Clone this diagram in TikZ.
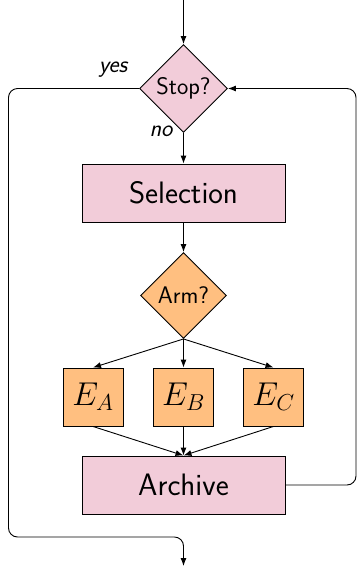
\documentclass[tikz,border=0pt]{standalone}
\usepackage{fix-cm}
\usepackage{fontspec}
\usetikzlibrary{shapes.geometric,arrows.meta}
\begin{document}
\begin{tikzpicture}[x=1pt,y=-1pt,
  line width=0.9pt,
  arr/.style={-{Latex[length=8pt,width=6pt]}},
  decision/.style={diamond,draw,aspect=1,inner sep=0pt,minimum width=88pt,minimum height=88pt,font=\sffamily\fontsize{24}{28}\selectfont},
  bigbox/.style={rectangle,draw,minimum width=203pt,minimum height=58pt,fill=purple!20,font=\sffamily\fontsize{31}{35}\selectfont},
  ebox/.style={rectangle,draw,minimum width=60pt,minimum height=58pt,fill=orange!50,font=\fontsize{33}{37}\selectfont},
  lbl/.style={font=\sffamily\itshape\fontsize{24}{28}\selectfont}]
\useasboundingbox (0,0) rectangle (357,566);
\node[decision,fill=purple!20] (stop) at (183.5,88.5) {Stop?};
\node[bigbox] (sel) at (183.5,193) {Selection};
\node[decision,fill=orange!50,minimum width=86pt,minimum height=86pt] (arm) at (183.5,295.5) {Arm?};
\node[ebox] (ea) at (93,397) {$E_A$};
\node[ebox] (eb) at (183.5,397) {$E_B$};
\node[ebox] (ec) at (273.5,397) {$E_C$};
\node[bigbox] (arch) at (183.5,485) {Archive};
\node[lbl] (yes) at (113,70) {yes};
\node[lbl] (no) at (161,131) {no};
\coordinate (in) at (183.5,0);
\coordinate (out) at (183.5,566);
\draw[arr] (in) -- (stop.north);
\draw[arr] (stop.south) -- (sel.north);
\draw[arr] (sel.south) -- (arm.north);
\draw[arr] (arm.south) -- (ea.north);
\draw[arr] (arm.south) -- (eb.north);
\draw[arr] (arm.south) -- (ec.north);
\draw[arr] (ea.south) -- (arch.north);
\draw[arr] (eb.south) -- (arch.north);
\draw[arr] (ec.south) -- (arch.north);
\draw[arr,rounded corners=9pt] (arch.east) -- (356,485) -- (356,88.5) -- (stop.east);
\draw[arr,rounded corners=9pt] (stop.west) -- (8.5,88.5) -- (8.5,537) -- (183.5,537) -- (out);
\end{tikzpicture}
\end{document}
